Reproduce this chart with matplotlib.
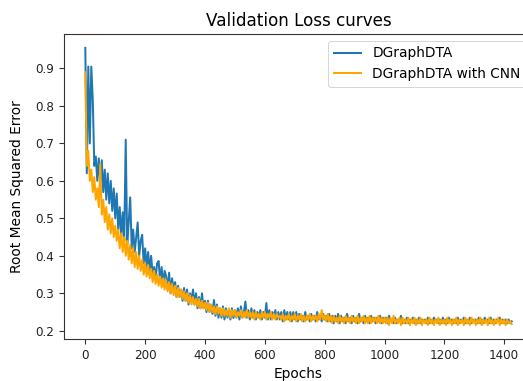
import matplotlib
matplotlib.use("Agg")
import matplotlib.pyplot as plt

# epochs sampled every 5
epochs = list(range(0, 1430, 5))

dgraphdta = [
    # 0-95
    0.955, 0.62, 0.905, 0.70, 0.905, 0.815, 0.64, 0.665, 0.60, 0.66,
    0.59, 0.655, 0.57, 0.63, 0.55, 0.62, 0.54, 0.60, 0.52, 0.58,
    # 100-195
    0.50, 0.566, 0.47, 0.53, 0.45, 0.516, 0.44, 0.71, 0.43, 0.49,
    0.556, 0.42, 0.47, 0.41, 0.45, 0.489, 0.40, 0.44, 0.456, 0.38,
    # 200-295
    0.42, 0.37, 0.41, 0.36, 0.40, 0.35, 0.37, 0.34, 0.38, 0.386,
    0.33, 0.37, 0.32, 0.36, 0.346, 0.31, 0.355, 0.30, 0.34, 0.31,
    # 300-395
    0.33, 0.29, 0.32, 0.29, 0.31, 0.28, 0.314, 0.28, 0.31, 0.27,
    0.30, 0.28, 0.31, 0.27, 0.30, 0.26, 0.29, 0.26, 0.30, 0.26,
    # 400-495
    0.28, 0.25, 0.28, 0.25, 0.27, 0.245, 0.282, 0.24, 0.27, 0.235,
    0.26, 0.235, 0.265, 0.23, 0.26, 0.235, 0.255, 0.23, 0.26, 0.234,
    # 500-595
    0.255, 0.235, 0.26, 0.23, 0.265, 0.235, 0.25, 0.278, 0.235, 0.255,
    0.23, 0.26, 0.235, 0.255, 0.23, 0.25, 0.235, 0.255, 0.23, 0.25,
    # 600-695
    0.235, 0.274, 0.23, 0.255, 0.23, 0.25, 0.235, 0.255, 0.23, 0.25,
    0.23, 0.25, 0.225, 0.255, 0.23, 0.25, 0.23, 0.25, 0.225, 0.25,
    # 700-795
    0.23, 0.25, 0.225, 0.245, 0.23, 0.24, 0.225, 0.25, 0.23, 0.24,
    0.225, 0.245, 0.23, 0.24, 0.225, 0.25, 0.23, 0.24, 0.225, 0.245,
    # 800-895
    0.23, 0.24, 0.225, 0.245, 0.225, 0.24, 0.22, 0.24, 0.225, 0.245,
    0.22, 0.24, 0.225, 0.235, 0.22, 0.245, 0.225, 0.235, 0.22, 0.24,
    # 900-995
    0.225, 0.235, 0.22, 0.245, 0.225, 0.235, 0.22, 0.24, 0.225, 0.235,
    0.22, 0.24, 0.225, 0.235, 0.22, 0.235, 0.225, 0.24, 0.22, 0.235,
    # 1000-1095
    0.225, 0.235, 0.22, 0.24, 0.225, 0.23, 0.22, 0.235, 0.22, 0.23,
    0.225, 0.24, 0.22, 0.23, 0.22, 0.235, 0.22, 0.23, 0.225, 0.235,
    # 1100-1195
    0.22, 0.23, 0.22, 0.235, 0.22, 0.23, 0.225, 0.23, 0.22, 0.235,
    0.22, 0.23, 0.22, 0.235, 0.225, 0.23, 0.22, 0.23, 0.22, 0.235,
    # 1200-1295
    0.22, 0.23, 0.22, 0.235, 0.225, 0.23, 0.22, 0.23, 0.22, 0.235,
    0.22, 0.23, 0.225, 0.235, 0.22, 0.23, 0.22, 0.235, 0.22, 0.23,
    # 1300-1395
    0.225, 0.23, 0.22, 0.235, 0.22, 0.23, 0.22, 0.235, 0.225, 0.23,
    0.22, 0.235, 0.22, 0.23, 0.22, 0.23, 0.225, 0.235, 0.22, 0.23,
    # 1400-1425
    0.22, 0.23, 0.22, 0.23, 0.22, 0.225,
]

dgraphdta_cnn = [
    # 0-95
    0.89, 0.64, 0.68, 0.60, 0.63, 0.57, 0.61, 0.55, 0.58, 0.53,
    0.645, 0.51, 0.55, 0.49, 0.53, 0.47, 0.51, 0.46, 0.50, 0.45,
    # 100-195
    0.48, 0.44, 0.47, 0.42, 0.46, 0.41, 0.45, 0.40, 0.44, 0.39,
    0.43, 0.38, 0.42, 0.37, 0.41, 0.365, 0.40, 0.36, 0.39, 0.35,
    # 200-295
    0.38, 0.345, 0.375, 0.34, 0.365, 0.33, 0.36, 0.325, 0.35, 0.32,
    0.345, 0.315, 0.34, 0.31, 0.335, 0.305, 0.33, 0.30, 0.325, 0.295,
    # 300-395
    0.32, 0.29, 0.315, 0.29, 0.31, 0.285, 0.305, 0.28, 0.30, 0.275,
    0.295, 0.27, 0.29, 0.27, 0.285, 0.265, 0.285, 0.26, 0.28, 0.26,
    # 400-495
    0.275, 0.255, 0.275, 0.25, 0.27, 0.25, 0.265, 0.245, 0.265, 0.245,
    0.26, 0.24, 0.26, 0.24, 0.255, 0.24, 0.26, 0.235, 0.255, 0.24,
    # 500-595
    0.255, 0.235, 0.25, 0.24, 0.255, 0.235, 0.25, 0.235, 0.255, 0.235,
    0.25, 0.235, 0.25, 0.23, 0.25, 0.235, 0.245, 0.23, 0.25, 0.235,
    # 600-695
    0.25, 0.23, 0.245, 0.235, 0.25, 0.23, 0.245, 0.23, 0.245, 0.235,
    0.24, 0.23, 0.245, 0.225, 0.24, 0.23, 0.245, 0.225, 0.24, 0.23,
    # 700-795
    0.245, 0.225, 0.24, 0.23, 0.245, 0.225, 0.24, 0.225, 0.24, 0.23,
    0.245, 0.225, 0.24, 0.23, 0.24, 0.225, 0.245, 0.23, 0.255, 0.23,
    # 800-895
    0.24, 0.225, 0.245, 0.225, 0.24, 0.22, 0.24, 0.225, 0.235, 0.22,
    0.24, 0.225, 0.235, 0.22, 0.24, 0.225, 0.235, 0.22, 0.24, 0.225,
    # 900-995
    0.235, 0.22, 0.24, 0.22, 0.235, 0.225, 0.24, 0.22, 0.235, 0.22,
    0.24, 0.22, 0.235, 0.225, 0.235, 0.22, 0.24, 0.22, 0.235, 0.22,
    # 1000-1095
    0.235, 0.22, 0.235, 0.215, 0.235, 0.22, 0.24, 0.22, 0.23, 0.22,
    0.235, 0.215, 0.235, 0.22, 0.23, 0.22, 0.235, 0.215, 0.23, 0.22,
    # 1100-1195
    0.235, 0.215, 0.23, 0.22, 0.235, 0.215, 0.23, 0.22, 0.23, 0.215,
    0.235, 0.22, 0.23, 0.215, 0.23, 0.22, 0.235, 0.215, 0.23, 0.22,
    # 1200-1295
    0.23, 0.215, 0.235, 0.22, 0.23, 0.215, 0.23, 0.22, 0.235, 0.215,
    0.23, 0.22, 0.23, 0.215, 0.235, 0.22, 0.23, 0.215, 0.235, 0.22,
    # 1300-1395
    0.23, 0.215, 0.23, 0.22, 0.235, 0.215, 0.23, 0.22, 0.23, 0.215,
    0.235, 0.22, 0.23, 0.215, 0.23, 0.22, 0.235, 0.215, 0.23, 0.22,
    # 1400-1425
    0.23, 0.215, 0.23, 0.22, 0.225, 0.218,
]

series_labels = ["DGraphDTA", "DGraphDTA with CNN"]

n = min(len(epochs), len(dgraphdta), len(dgraphdta_cnn))

fig = plt.figure(figsize=(523 / 72, 381 / 72), dpi=72)
ax = fig.add_axes([64 / 523, 42 / 381, 469 / 523, 305 / 381])
ax.plot(epochs[:n], dgraphdta[:n], color="#1f77b4", lw=2, label=series_labels[0])
ax.plot(epochs[:n], dgraphdta_cnn[:n], color="orange", lw=2, label=series_labels[1])
ax.set_xlim(-71.25, 1496.25)
ax.set_ylim(0.178, 0.992)
ax.set_xticks([0, 200, 400, 600, 800, 1000, 1200, 1400])
ax.set_yticks([0.2, 0.3, 0.4, 0.5, 0.6, 0.7, 0.8, 0.9])
ax.tick_params(labelsize=12, length=4.9, width=1.1, pad=4.9,
               colors="#333333", labelcolor="#222222")
for sp in ax.spines.values():
    sp.set_linewidth(1.1)
    sp.set_color("#333333")
ax.set_title("Validation Loss curves", fontsize=16.8, pad=8)
ax.set_xlabel("Epochs", fontsize=13.8, labelpad=5)
ax.set_ylabel("Root Mean Squared Error", fontsize=13.8, labelpad=11)
ax.legend(loc="upper right", fontsize=13.8)
fig.savefig("out.png", dpi=72)
